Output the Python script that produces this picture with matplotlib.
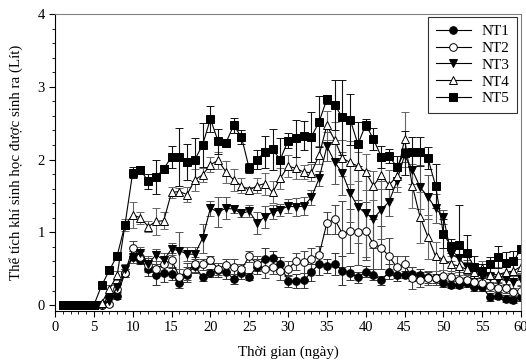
import numpy as np
import matplotlib
matplotlib.use("Agg")
import matplotlib.pyplot as plt
from matplotlib.ticker import MultipleLocator
from matplotlib.lines import Line2D

plt.rcParams['font.family'] = ['Liberation Serif', 'DejaVu Serif']

days = np.arange(1, 61)

nt1 = [0, 0, 0, 0, 0, 0, 0.13, 0.13, 0.44, 0.66, 0.62, 0.50, 0.42, 0.44, 0.43,
       0.30, 0.42, 0.54, 0.38, 0.44, 0.48, 0.46, 0.36, 0.44, 0.39, 0.53, 0.64, 0.65, 0.56, 0.33,
       0.33, 0.34, 0.45, 0.57, 0.54, 0.57, 0.47, 0.44, 0.38, 0.46, 0.42, 0.34, 0.46, 0.41, 0.42,
       0.43, 0.42, 0.38, 0.37, 0.30, 0.28, 0.28, 0.31, 0.25, 0.25, 0.11, 0.13, 0.09, 0.07, 0.11]
nt1_err = [0, 0, 0, 0, 0, 0, 0.03, 0.05, 0.05, 0.08, 0.05, 0.10, 0.15, 0.12, 0.08,
           0.06, 0.10, 0.10, 0.05, 0.05, 0.10, 0.10, 0.07, 0.08, 0.05, 0.10, 0.15, 0.10, 0.10, 0.08,
           0.10, 0.10, 0.12, 0.15, 0.10, 0.15, 0.20, 0.10, 0.08, 0.08, 0.08, 0.06, 0.10, 0.08, 0.05,
           0.10, 0.08, 0.08, 0.06, 0.05, 0.05, 0.05, 0.06, 0.05, 0.06, 0.05, 0.05, 0.05, 0.04, 0.05]

nt2 = [0, 0, 0, 0, 0, 0, 0.01, 0.22, 0.44, 0.78, 0.66, 0.55, 0.50, 0.56, 0.62,
       0.39, 0.46, 0.56, 0.56, 0.62, 0.50, 0.55, 0.53, 0.49, 0.67, 0.57, 0.49, 0.53, 0.47, 0.50,
       0.60, 0.59, 0.63, 0.69, 1.13, 1.18, 0.98, 1.02, 1.00, 1.02, 0.84, 0.79, 0.67, 0.52, 0.56,
       0.37, 0.35, 0.37, 0.37, 0.40, 0.39, 0.35, 0.35, 0.32, 0.30, 0.26, 0.24, 0.23, 0.18, 0.20]
nt2_err = [0, 0, 0, 0, 0, 0, 0.02, 0.05, 0.05, 0.10, 0.08, 0.10, 0.10, 0.12, 0.10,
           0.10, 0.12, 0.10, 0.08, 0.06, 0.08, 0.08, 0.10, 0.08, 0.08, 0.10, 0.12, 0.10, 0.12, 0.10,
           0.12, 0.15, 0.15, 0.12, 0.15, 0.20, 0.45, 0.30, 0.45, 0.40, 0.35, 0.30, 0.25, 0.15, 0.12,
           0.15, 0.10, 0.10, 0.10, 0.08, 0.08, 0.10, 0.08, 0.08, 0.08, 0.06, 0.06, 0.06, 0.06, 0.06]

nt3 = [0, 0, 0, 0, 0, 0, 0.05, 0.25, 0.50, 0.66, 0.72, 0.57, 0.69, 0.62, 0.77,
       0.75, 0.70, 0.70, 0.92, 1.33, 1.28, 1.33, 1.32, 1.26, 1.29, 1.13, 1.21, 1.28, 1.31, 1.36,
       1.35, 1.36, 1.48, 1.74, 2.18, 1.97, 1.81, 1.54, 1.35, 1.26, 1.19, 1.31, 1.42, 1.70, 2.06,
       1.86, 1.62, 1.49, 1.33, 1.21, 0.70, 0.65, 0.52, 0.47, 0.40, 0.38, 0.35, 0.36, 0.32, 0.36]
nt3_err = [0, 0, 0, 0, 0, 0, 0.03, 0.05, 0.06, 0.08, 0.08, 0.10, 0.08, 0.10, 0.08,
           0.25, 0.10, 0.10, 0.20, 0.10, 0.20, 0.15, 0.05, 0.05, 0.08, 0.15, 0.15, 0.10, 0.08, 0.10,
           0.12, 0.12, 0.10, 0.10, 0.20, 0.30, 0.30, 0.40, 0.50, 0.60, 0.40, 0.40, 0.20, 0.15, 0.10,
           0.20, 0.30, 0.30, 0.20, 0.10, 0.10, 0.20, 0.10, 0.10, 0.10, 0.08, 0.08, 0.08, 0.08, 0.08]

nt4 = [0, 0, 0, 0, 0, 0.03, 0.22, 0.41, 1.10, 1.24, 1.20, 1.08, 1.15, 1.16, 1.55,
       1.56, 1.52, 1.72, 1.79, 1.93, 1.99, 1.83, 1.72, 1.64, 1.58, 1.64, 1.67, 1.55, 1.74, 1.91,
       1.88, 1.83, 1.82, 2.06, 2.47, 2.27, 2.02, 1.96, 1.91, 1.83, 1.64, 1.79, 1.65, 1.77, 2.28,
       1.64, 1.21, 0.94, 0.67, 0.63, 0.56, 0.54, 0.49, 0.46, 0.51, 0.41, 0.42, 0.45, 0.47, 0.53]
nt4_err = [0, 0, 0, 0, 0, 0.02, 0.05, 0.06, 0.08, 0.18, 0.08, 0.08, 0.18, 0.12, 0.08,
           0.05, 0.10, 0.15, 0.10, 0.10, 0.12, 0.15, 0.15, 0.10, 0.05, 0.10, 0.15, 0.15, 0.15, 0.15,
           0.15, 0.10, 0.12, 0.12, 0.20, 0.25, 0.25, 0.30, 0.20, 0.25, 0.20, 0.20, 0.20, 0.15, 0.38,
           0.30, 0.35, 0.30, 0.20, 0.15, 0.12, 0.12, 0.10, 0.10, 0.10, 0.10, 0.10, 0.10, 0.10, 0.10]

nt5 = [0, 0, 0, 0, 0, 0.27, 0.48, 0.68, 1.10, 1.82, 1.86, 1.70, 1.76, 1.87, 2.04,
       2.04, 1.97, 2.00, 2.20, 2.56, 2.25, 2.23, 2.47, 2.31, 1.88, 2.00, 2.10, 2.14, 2.00, 2.26,
       2.29, 2.33, 2.31, 2.52, 2.83, 2.75, 2.58, 2.55, 2.21, 2.48, 2.28, 2.04, 2.05, 1.90, 2.09,
       2.11, 2.11, 2.02, 1.64, 0.98, 0.81, 0.83, 0.71, 0.52, 0.47, 0.56, 0.66, 0.58, 0.60, 0.77]
nt5_err = [0, 0, 0, 0, 0, 0.03, 0.04, 0.05, 0.06, 0.08, 0.05, 0.10, 0.23, 0.05, 0.15,
           0.40, 0.25, 0.30, 0.30, 0.18, 0.17, 0.05, 0.10, 0.10, 0.07, 0.13, 0.22, 0.28, 0.30, 0.10,
           0.25, 0.20, 0.35, 0.35, 0.06, 0.35, 0.52, 0.35, 0.30, 0.08, 0.15, 0.15, 0.10, 0.15, 0.30,
           0.20, 0.20, 0.15, 0.30, 0.20, 0.10, 0.55, 0.25, 0.15, 0.10, 0.10, 0.15, 0.15, 0.15, 0.05]

series = [
    ("NT1", nt1, nt1_err, "o", "black", "#333333"),
    ("NT2", nt2, nt2_err, "o", "white", "#444444"),
    ("NT3", nt3, nt3_err, "v", "black", "#555555"),
    ("NT4", nt4, nt4_err, "^", "white", "#666666"),
    ("NT5", nt5, nt5_err, "s", "black", "#111111"),
]

fig = plt.figure(figsize=(5.26, 3.62), dpi=100)
ax = fig.add_axes([0.1046, 0.141, 0.886, 0.8203])

handles = []
for name, y, err, m, fc, ec in series:
    ax.errorbar(days, y, yerr=err, fmt="-" + m, color="black", mfc=fc, mec="black",
                ms=5.5, mew=0.7, lw=0.8, ecolor=ec, elinewidth=0.8, capsize=3,
                capthick=0.8)
    handles.append(Line2D([], [], color="black", lw=0.8, marker=m, mfc=fc,
                          mec="black", ms=5.5, mew=0.7, label=name))

ax.set_xlim(0, 60)
ax.set_ylim(-0.08, 4)
ax.xaxis.set_major_locator(MultipleLocator(5))
ax.xaxis.set_minor_locator(MultipleLocator(1))
ax.yaxis.set_major_locator(MultipleLocator(1))
ax.yaxis.set_minor_locator(MultipleLocator(0.2))
ax.tick_params(which="both", direction="out", labelsize=10.5, top=False, right=False)
ax.tick_params(which="major", length=4)
ax.tick_params(which="minor", length=2.5)
ax.spines["top"].set_color("#808080")
ax.spines["right"].set_color("#808080")

ax.set_xlabel("Thời gian (ngày)", fontsize=10.8, labelpad=8)
ax.set_ylabel("Thể tích khí sinh học được sinh ra (Lít)", fontsize=10.8, labelpad=10)

# legend box sits just inside the top-right corner
leg = ax.legend(handles=handles, loc="upper right", fontsize=11, fancybox=False,
                edgecolor="black", handlelength=2.3, handletextpad=0.7,
                borderpad=0.5, labelspacing=0.2, borderaxespad=0,
                bbox_to_anchor=(0.9915, 0.99))
leg.get_frame().set_linewidth(0.8)

fig.savefig("out.png", dpi=100)
